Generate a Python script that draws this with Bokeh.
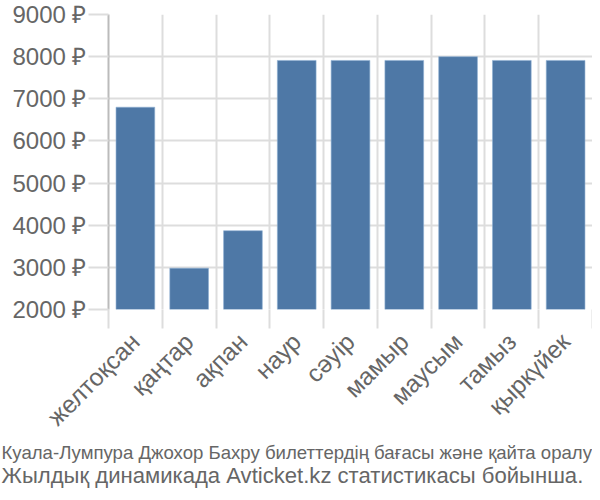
import numpy as np
from bokeh.plotting import figure
from bokeh.models import FixedTicker, PrintfTickFormatter, Range1d, Title
from bokeh.embed import file_html
from bokeh.resources import INLINE

months = ["желтоқсан", "қаңтар", "ақпан", "наур", "сәуір", "мамыр", "маусым", "тамыз", "қыркүйек"]
prices = [6800, 2980, 3870, 7910, 7910, 7910, 8000, 7910, 7910]
y_ticks = [2000, 3000, 4000, 5000, 6000, 7000, 8000, 9000]
caption1 = "Куала-Лумпура Джохор Бахру билеттердің бағасы және қайта оралу"
caption2 = "Жылдық динамикада Avticket.kz статистикасы бойынша."

TEXT = "#666666"
GRID = "#dddddd"
BAR = "#4e78a6"
FONT = "Liberation Sans"

n = len(months)
centers = list(np.arange(n) + 0.5)

p = figure(width=592, height=492, output_backend="svg", toolbar_location=None,
           x_range=Range1d(0, n), y_range=Range1d(y_ticks[0], y_ticks[-1]),
           min_border_left=108, min_border_right=0, min_border_top=14, min_border_bottom=183)
p.outline_line_color = None
p.background_fill_color = "white"

p.vbar(x=centers, top=prices, bottom=y_ticks[0], width=0.72,
       fill_color=BAR, line_color="#8fb0d3", line_width=0.6)

# x axis
xa = p.xaxis[0]
xa.ticker = FixedTicker(ticks=centers, minor_ticks=list(range(n + 1)))
xa.major_label_overrides = {float(c): m for c, m in zip(centers, months)}
xa.major_label_orientation = np.pi / 4
xa.axis_line_color = None
xa.major_tick_line_color = None
xa.major_tick_out = 0
xa.major_tick_in = 0
xa.minor_tick_out = 19
xa.minor_tick_in = 0
xa.minor_tick_line_color = GRID
xa.minor_tick_line_width = 2
xa.major_label_text_font = FONT
xa.major_label_text_font_size = "24.5px"
xa.major_label_text_color = TEXT
xa.major_label_standoff = 9

# y axis
ya = p.yaxis[0]
ya.ticker = FixedTicker(ticks=y_ticks)
ya.formatter = PrintfTickFormatter(format="%d ₽")
ya.axis_line_color = "#bbbbbb"
ya.axis_line_width = 2
ya.major_tick_line_color = GRID
ya.major_tick_line_width = 2
ya.major_tick_out = 20
ya.major_tick_in = 0
ya.minor_tick_line_color = None
ya.major_label_text_font = FONT
ya.major_label_text_font_size = "24px"
ya.major_label_text_color = TEXT
ya.major_label_standoff = 2

p.xgrid.ticker = FixedTicker(ticks=list(range(n + 1)))
p.xgrid.grid_line_color = GRID
p.xgrid.grid_line_width = 2
p.ygrid.grid_line_color = GRID
p.ygrid.grid_line_width = 2

t1 = Title(text=caption1, text_font=FONT, text_font_size="18.6px",
           text_color=TEXT, text_font_style="normal", align="left", offset=-107, standoff=-8)
t2 = Title(text=caption2, text_font=FONT, text_font_size="22.1px",
           text_color=TEXT, text_font_style="normal", align="left", offset=-107, standoff=4)
p.add_layout(t1, "below")
p.add_layout(t2, "below")

open("out.html", "w").write(file_html(p, INLINE))
